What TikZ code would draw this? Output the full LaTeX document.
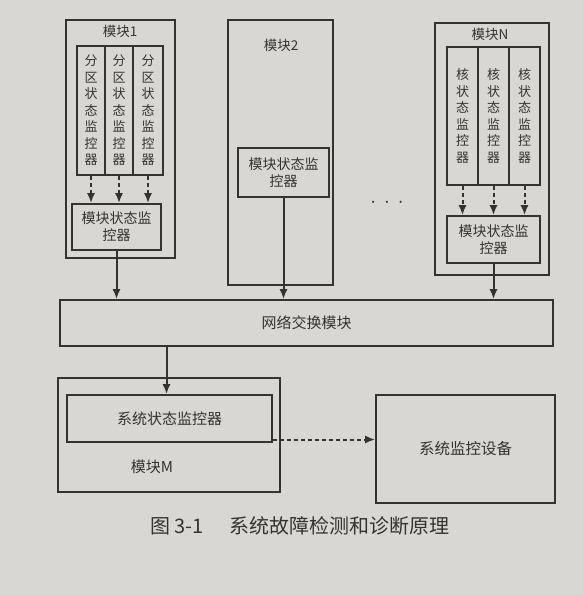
\documentclass[tikz,border=0pt]{standalone}
\usepackage{fontspec}
\setmainfont{Noto Sans CJK SC}
\usepackage{tikz}
\usetikzlibrary{arrows.meta,positioning,calc}
\definecolor{PaperGray}{HTML}{D9D7D3}
\definecolor{InkGray}{HTML}{343332}

\begin{document}
\begin{tikzpicture}[x=1pt,y=-1pt,>={Latex[length=10pt,width=8pt]},
  box/.style={draw=InkGray,line width=1.6pt,inner sep=0pt,text=InkGray,font=\fontsize{14}{17}\selectfont,align=center},
  colbox/.style={box,minimum width=#1,font=\fontsize{13}{16.5}\selectfont},
  lbl/.style={text=InkGray,font=\fontsize{13.5}{14}\selectfont},
  link/.style={->,draw=InkGray,line width=2pt},
  dlink/.style={link,dash pattern=on 4pt off 3pt}]
\fill[PaperGray] (0,0) rectangle (583,595);
% module 1
\node[box,minimum width=109pt,minimum height=238pt] (m1) at (120.5,139) {};
\node[lbl] (t1) at (120,31) {模块1};
\node[colbox=28pt,minimum height=129pt] (a1) at (91,110.5) {分\\区\\状\\态\\监\\控\\器};
\node[colbox=28pt,minimum height=129pt] (a2) at (119,110.5) {分\\区\\状\\态\\监\\控\\器};
\node[colbox=30pt,minimum height=129pt] (a3) at (148,110.5) {分\\区\\状\\态\\监\\控\\器};
\node[box,minimum width=89pt,minimum height=46pt] (s1) at (116.5,227) {模块状态监\\控器};
\draw[dlink] (a1) -- (a1 |- s1.north);
\draw[dlink] (a2) -- (a2 |- s1.north);
\draw[dlink] (a3) -- (a3 |- s1.north);
% module 2
\node[box,minimum width=105pt,minimum height=265pt] (m2) at (280.5,152.5) {};
\node[lbl] (t2) at (281,45) {模块2};
\node[box,minimum width=91pt,minimum height=49pt] (s2) at (283.5,172.5) {模块状态监\\控器};
\node[lbl,font=\fontsize{22}{22}\bfseries] (dots) at (387,203) {$\cdot\,\cdot\,\cdot$};
% module N
\node[box,minimum width=114pt,minimum height=252pt] (mn) at (492,149) {};
\node[lbl] (tn) at (490,34) {模块N};
\node[colbox=31pt,minimum height=138pt] (b1) at (462.5,116) {核\\状\\态\\监\\控\\器};
\node[colbox=31pt,minimum height=138pt] (b2) at (493.5,116) {核\\状\\态\\监\\控\\器};
\node[colbox=31pt,minimum height=138pt] (b3) at (524.5,116) {核\\状\\态\\监\\控\\器};
\node[box,minimum width=93pt,minimum height=47pt] (sn) at (493.5,239.5) {模块状态监\\控器};
\draw[dlink] (b1) -- (b1 |- sn.north);
\draw[dlink] (b2) -- (b2 |- sn.north);
\draw[dlink] (b3) -- (b3 |- sn.north);
% network
\node[box,minimum width=493pt,minimum height=46pt,font=\fontsize{15}{15}\selectfont] (net) at (306.5,323) {网络交换模块};
\draw[link] (s1) -- (s1 |- net.north);
\draw[link] (s2) -- (s2 |- net.north);
\draw[link] (sn) -- (sn |- net.north);
% module M
\node[box,minimum width=222pt,minimum height=114pt] (mm) at (169,435) {};
\node[box,minimum width=205pt,minimum height=47pt,font=\fontsize{15}{15}\selectfont] (sm) at (169.5,418.5) {系统状态监控器};
\node[lbl,font=\fontsize{15}{15}\selectfont] (tm) at (152,467) {模块M};
\draw[link] ($(net.south west)!0.217!(net.south east)$) coordinate (nd) -- (nd |- sm.north);
% device
\node[box,minimum width=179pt,minimum height=108pt,font=\fontsize{15.5}{15}\selectfont] (dev) at (465.5,449) {系统监控设备};
\draw[dlink] ([yshift=-21pt]sm.east) coordinate (dd) -- (dd -| dev.west);
% caption
\node[text=InkGray,font=\fontsize{20}{20}\selectfont] (cap) at (300,526) {图 3-1\hspace{1.3em}系统故障检测和诊断原理};
\end{tikzpicture}
\end{document}
